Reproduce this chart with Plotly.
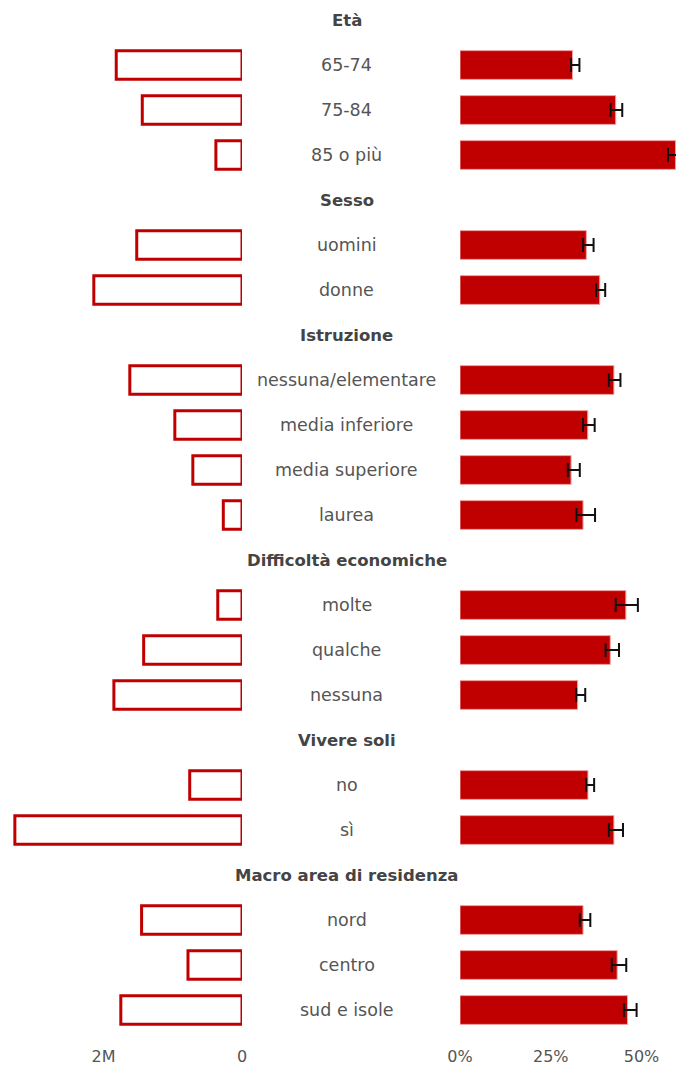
import plotly.graph_objects as go

# ---- data ----
groups = ["Età", "Sesso", "Istruzione", "Difficoltà economiche", "Vivere soli", "Macro area di residenza"]
categories = [
    ["65-74", "75-84", "85 o più"],
    ["uomini", "donne"],
    ["nessuna/elementare", "media inferiore", "media superiore", "laurea"],
    ["molte", "qualche", "nessuna"],
    ["no", "sì"],
    ["nord", "centro", "sud e isole"],
]
# absolute numbers (left panel)
counts = [
    [1.816e6, 1.44e6, 0.377e6],
    [1.52e6, 2.14e6],
    [1.62e6, 0.97e6, 0.71e6, 0.27e6],
    [0.35e6, 1.42e6, 1.85e6],
    [0.755e6, 3.28e6],
    [1.45e6, 0.78e6, 1.75e6],
]
# prevalence (right panel), as fractions
pct = [
    [0.310, 0.429, 0.594],
    [0.348, 0.385],
    [0.424, 0.352, 0.306, 0.339],
    [0.457, 0.414, 0.324],
    [0.3525, 0.424],
    [0.339, 0.433, 0.4615],
]
err_minus = [
    [0.004, 0.014, 0.021],
    [0.009, 0.010],
    [0.014, 0.013, 0.009, 0.018],
    [0.028, 0.013, 0.004],
    [0.005, 0.014],
    [0.009, 0.015, 0.010],
]
err_plus = [
    [0.019, 0.018, 0.025],
    [0.020, 0.015],
    [0.018, 0.019, 0.024, 0.033],
    [0.033, 0.024, 0.021],
    [0.017, 0.025],
    [0.020, 0.025, 0.025],
]
left_ticks = [2e6, 0]
left_ticktext = ["2M", "0"]
right_ticks = [0, 0.25, 0.5]
right_ticktext = ["0%", "25%", "50%"]

RED = "#c00000"
TXT = "#555555"
FONT = "DejaVu Sans"

# flatten into rows
rows_y, lab, cnt, pv, em, ep = [], [], [], [], [], []
header_rows = []
r = 0
for g, cats, cs, ps, ms, pls in zip(groups, categories, counts, pct, err_minus, err_plus):
    header_rows.append((r, g))
    r += 1
    for c, n, p, m, pl in zip(cats, cs, ps, ms, pls):
        rows_y.append(r); lab.append(c); cnt.append(n); pv.append(p); em.append(m); ep.append(pl)
        r += 1
nrows = r

# page offset (body margin) compensation
OFF = 8
W, H = 684 - OFF, 1067 - OFF
ROW_PX = 45.0
TOP0 = 20 - OFF          # pixel of row 0 centre in figure coords
PLOT_H = 1037
rmin = -TOP0 / ROW_PX
rmax = rmin + PLOT_H / ROW_PX

L0 = 242 - OFF           # left-panel zero
PX_PER_M = 69.25
LLEFT = 2
left_max = (L0 - LLEFT) / PX_PER_M * 1e6
R0 = 460 - OFF
PX_PER_UNIT = 363.0
right_max = (W - R0) / PX_PER_UNIT
CX = (347 - OFF) / W

fig = go.Figure()
fig.add_trace(go.Bar(
    y=rows_y, x=cnt, orientation="h", width=0.63,
    marker=dict(color="white", line=dict(color=RED, width=3)),
    xaxis="x", yaxis="y", showlegend=False, hoverinfo="skip"))
fig.add_trace(go.Bar(
    y=rows_y, x=pv, orientation="h", width=0.64,
    marker=dict(color=RED, line=dict(color="#f2a5a5", width=1)),
    error_x=dict(type="data", symmetric=False, array=ep, arrayminus=em,
                 color="#111111", thickness=2, width=7),
    xaxis="x2", yaxis="y", showlegend=False, hoverinfo="skip"))

annotations = []
for rr, g in header_rows:
    annotations.append(dict(x=CX, xref="paper", y=rr, yref="y", text="<b>%s</b>" % g,
                            showarrow=False, xanchor="center", yanchor="middle",
                            font=dict(family=FONT, size=16.5, color="#444444")))
for rr, t in zip(rows_y, lab):
    annotations.append(dict(x=CX, xref="paper", y=rr, yref="y", text=t,
                            showarrow=False, xanchor="center", yanchor="middle",
                            font=dict(family=FONT, size=17.5, color=TXT)))

fig.update_layout(
    width=W, height=H,
    margin=dict(l=0, r=0, t=0, b=H - PLOT_H),
    paper_bgcolor="white", plot_bgcolor="white",
    barmode="overlay",
    annotations=annotations,
    font=dict(family=FONT, size=16, color=TXT),
    yaxis=dict(range=[rmax, rmin], visible=False, fixedrange=True),
    xaxis=dict(domain=[LLEFT / W, L0 / W], range=[left_max, 0], anchor="y",
               tickvals=left_ticks, ticktext=left_ticktext, showgrid=False,
               zeroline=False, showline=False, ticks="", automargin=False,
               tickfont=dict(family=FONT, size=16, color=TXT)),
    xaxis2=dict(domain=[R0 / W, 1], range=[0, right_max], anchor="y",
                tickvals=right_ticks, ticktext=right_ticktext, showgrid=False,
                zeroline=False, showline=False, ticks="", automargin=False,
                tickfont=dict(family=FONT, size=16, color=TXT)),
)

fig.write_html("out.html")
